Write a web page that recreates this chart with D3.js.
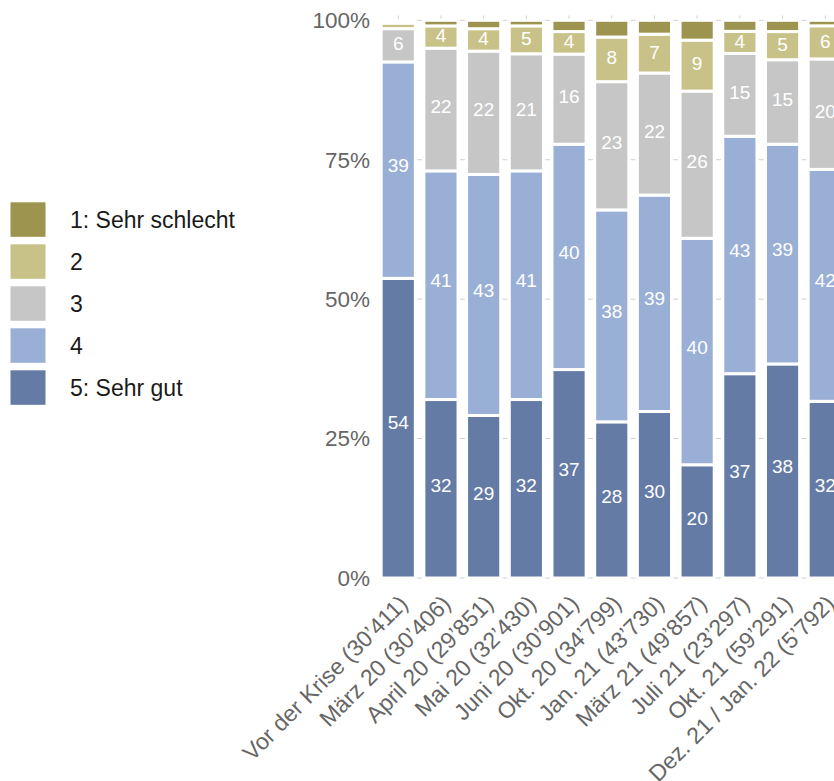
<!DOCTYPE html>
<html>
<head>
<meta charset="utf-8">
<script src="https://cdn.jsdelivr.net/npm/d3@7"></script>
<style>
  html, body { margin: 0; padding: 0; background: #fff; }
  svg { display: block; font-family: "Liberation Sans", Arial, Helvetica, sans-serif; }
</style>
</head>
<body>
<svg id="chart" width="834" height="781"></svg>
<script>
// Survey waves (number of respondents in brackets)
const categories = [
  "Vor der Krise (30’411)", "März 20 (30’406)", "April 20 (29’851)", "Mai 20 (32’430)",
  "Juni 20 (30’901)", "Okt. 20 (34’799)", "Jan. 21 (43’730)", "März 21 (49’857)",
  "Juli 21 (23’297)", "Okt. 21 (59’291)", "Dez. 21 / Jan. 22 (5’792)"
];

// Share of answers per rating, in percent
const rating5 = [54, 32, 29, 32, 37, 28, 30, 20, 37, 38, 32];   // 5: Sehr gut
const rating4 = [39, 41, 43, 41, 40, 38, 39, 40, 43, 39, 42];   // 4
const rating3 = [6, 22, 22, 21, 16, 23, 22, 26, 15, 15, 20];    // 3
const rating2 = [1, 4, 4, 5, 4, 8, 7, 9, 4, 5, 6];              // 2
const rating1 = [0.5, 1, 1.5, 1, 2, 3, 2.5, 3.5, 2, 2, 1];      // 1: Sehr schlecht

const seriesKeys = ["5", "4", "3", "2", "1"];             // stacking order, bottom to top
const legendLabels = ["1: Sehr schlecht", "2", "3", "4", "5: Sehr gut"];
const legendKeys = ["1", "2", "3", "4", "5"];
const yTicks = [0, 0.25, 0.5, 0.75, 1];

const colors = { "1": "#9c944f", "2": "#c8c288", "3": "#c6c6c6", "4": "#9aafd6", "5": "#647ba6" };

const rows = categories.map((c, i) => ({
  cat: c, "5": rating5[i], "4": rating4[i], "3": rating3[i], "2": rating2[i], "1": rating1[i]
}));

const svg = d3.select("#chart");

const x = d3.scaleBand().domain(categories).range([376.9, 846.6]).paddingInner(0.2).paddingOuter(0.1);
const y = d3.scaleLinear().domain([0, 1]).range([578, 20.3]);

const stacked = d3.stack().keys(seriesKeys).offset(d3.stackOffsetExpand)(rows);

// Gridlines
const grid = svg.append("g").attr("class", "grid");
const step = x.step();
const gapStart = x(categories[0]) + x.bandwidth() + (step - x.bandwidth()) / 2 - 2.5;
grid.selectAll("line.h").data(yTicks).join("line")
  .attr("class", "h")
  .attr("x1", gapStart).attr("x2", x.range()[1])
  .attr("y1", d => y(d)).attr("y2", d => y(d))
  .attr("stroke", "#d0d0d0").attr("stroke-width", 1)
  .attr("stroke-dasharray", `5,${step - 5}`);
grid.selectAll("line.v").data(categories).join("line")
  .attr("class", "v")
  .attr("x1", d => x(d) + x.bandwidth() / 2).attr("x2", d => x(d) + x.bandwidth() / 2)
  .attr("y1", 15.5).attr("y2", y(0))
  .attr("stroke", "#d0d0d0").attr("stroke-width", 1);

// Stacked bars
const layers = svg.append("g").selectAll("g").data(stacked).join("g")
  .attr("fill", d => colors[d.key]);
layers.selectAll("rect").data(d => d.map(s => ({ key: d.key, s }))).join("rect")
  .attr("x", d => x(d.s.data.cat))
  .attr("width", x.bandwidth())
  .attr("y", d => y(d.s[1]))
  .attr("height", d => y(d.s[0]) - y(d.s[1]))
  .attr("stroke", "#fff").attr("stroke-width", 3);

// Value labels (small shares stay unlabelled)
const labelData = [];
stacked.forEach(layer => layer.forEach(s => {
  const v = s.data[layer.key];
  if (v >= 4) labelData.push({ cat: s.data.cat, v, y0: y(s[0]), y1: y(s[1]) });
}));
svg.append("g").selectAll("text").data(labelData).join("text")
  .attr("x", d => x(d.cat) + x.bandwidth() / 2)
  .attr("y", d => (d.y0 + d.y1) / 2 - 0.016 * (d.y0 - d.y1) - 1)
  .attr("dy", "0.35em")
  .attr("text-anchor", "middle")
  .attr("fill", "#fff")
  .attr("font-size", 19)
  .text(d => d.v);

// Y axis labels
svg.append("g").selectAll("text").data(yTicks).join("text")
  .attr("x", 370).attr("y", d => y(d))
  .attr("dy", "0.35em")
  .attr("text-anchor", "end")
  .attr("fill", "#666")
  .attr("font-size", 22.5)
  .text(d => d3.format(".0%")(d));

// X axis labels, rotated
svg.append("g").selectAll("text").data(categories).join("text")
  .attr("transform", d => `translate(${x(d) + x.bandwidth() / 2 + 11},${605}) rotate(-45)`)
  .attr("text-anchor", "end")
  .attr("fill", "#666")
  .attr("font-size", 23)
  .text(d => d);

// Legend
const legend = svg.append("g").selectAll("g").data(legendKeys).join("g")
  .attr("transform", (d, i) => `translate(10.5,${202.3 + i * 42})`);
legend.append("rect")
  .attr("width", 35).attr("height", 34.5)
  .attr("fill", d => colors[d]);
legend.append("text")
  .attr("x", 59.5).attr("y", 17.5).attr("dy", "0.35em")
  .attr("fill", "#1a1a1a")
  .attr("font-size", 23)
  .text((d, i) => legendLabels[i]);
</script>
</body>
</html>
